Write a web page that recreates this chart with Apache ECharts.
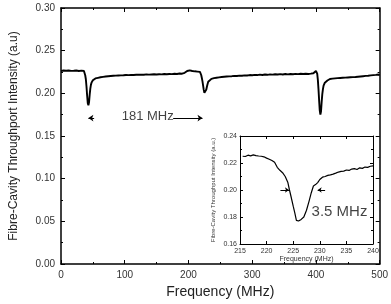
<!DOCTYPE html>
<html><head><meta charset="utf-8">
<script src="https://cdn.jsdelivr.net/npm/echarts@6/dist/echarts.min.js"></script>
<style>html,body{margin:0;padding:0;background:#fff}#c{width:391px;height:304px}</style>
</head><body><div id="c"></div>
<script>
// Main spectrum: [frequency MHz, intensity a.u.]
const mainTrace = [
[0,0.2262],[2,0.2254],[4,0.2268],[6,0.2257],[8,0.2265],[10,0.2251],[12,0.2267],[14,0.2256],[16,0.2263],[18,0.2249],[20,0.2264],[22,0.2255],[24,0.2268],[26,0.2254],[28,0.2262],[30,0.2252],[32,0.2266],[34,0.2257],[36,0.2261],
[37,0.2246],[38,0.2212],[39,0.2165],[40,0.2080],[41,0.1975],[42,0.1885],[43,0.1860],[44,0.1895],[45,0.1985],[46,0.2055],[47,0.2102],[48,0.2128],[50,0.2152],[52,0.2163],[54,0.2175],[56,0.2168],[58,0.2182],[60,0.2176],[62,0.2189],[64,0.2181],[66,0.2193],[68,0.2185],[70,0.2197],[72,0.2188],[74,0.2200],[76,0.2191],[78,0.2203],[80,0.2194],[82,0.2206],[84,0.2196],[86,0.2207],[88,0.2198],[90,0.2209],[92,0.2199],[94,0.2211],[96,0.2201],[98,0.2212],[100,0.2202],[102,0.2214],[104,0.2203],[106,0.2213],[108,0.2205],[110,0.2216],[112,0.2204],[114,0.2215],[116,0.2206],[118,0.2218],[120,0.2205],[122,0.2217],[124,0.2207],[126,0.2219],[128,0.2206],[130,0.2218],[132,0.2208],[134,0.2222],[136,0.2207],[138,0.2219],[140,0.2209],[142,0.2221],[144,0.2208],[146,0.2223],[148,0.2210],[150,0.2220],[152,0.2209],[154,0.2224],[156,0.2211],[158,0.2222],[160,0.2210],[162,0.2226],[164,0.2212],[166,0.2223],[168,0.2211],[170,0.2227],[172,0.2213],[174,0.2225],[176,0.2214],[178,0.2229],[180,0.2215],[182,0.2226],[184,0.2216],[186,0.2232],[188,0.2218],[190,0.2230],[192,0.2222],[194,0.2241],[196,0.2228],[198,0.2262],[200,0.2248],[202,0.2270],[204,0.2252],[206,0.2262],[208,0.2250],[210,0.2258],[212,0.2248],[214,0.2255],[216,0.2246],[218,0.2252],[219,0.2240],
[220,0.2215],[221,0.2180],[222,0.2140],[223,0.2090],[224,0.2040],[225,0.2005],[226,0.1995],[227,0.2010],[228,0.2045],[229,0.2080],[230,0.2110],[231,0.2135],[232,0.2148],[234,0.2158],[236,0.2170],[238,0.2163],[240,0.2178],[242,0.2170],[244,0.2183],[246,0.2174],[248,0.2187],
[250,0.2178],[252,0.2191],[254,0.2180],[256,0.2194],[258,0.2182],[260,0.2197],[262,0.2184],[264,0.2199],[266,0.2186],[268,0.2201],[270,0.2188],[272,0.2205],[274,0.2190],[276,0.2203],[278,0.2192],[280,0.2208],[282,0.2193],[284,0.2206],[286,0.2195],[288,0.2211],[290,0.2196],[292,0.2209],[294,0.2198],[296,0.2214],[298,0.2199],[300,0.2212],[302,0.2200],[304,0.2216],[306,0.2201],[308,0.2214],[310,0.2203],[312,0.2219],[314,0.2202],[316,0.2215],[318,0.2204],[320,0.2221],[322,0.2205],[324,0.2217],[326,0.2206],[328,0.2222],[330,0.2207],[332,0.2219],[334,0.2208],[336,0.2224],[338,0.2209],[340,0.2220],[342,0.2210],[344,0.2225],[346,0.2211],[348,0.2221],[350,0.2212],[352,0.2226],[354,0.2211],[356,0.2222],[358,0.2213],[360,0.2227],[362,0.2212],[364,0.2224],[366,0.2214],[368,0.2228],[370,0.2213],[372,0.2225],[374,0.2215],[376,0.2229],[378,0.2214],[380,0.2226],[382,0.2216],[384,0.2230],[386,0.2215],[388,0.2227],[390,0.2217],[392,0.2231],[394,0.2218],[396,0.2236],[398,0.2242],[400,0.2262],[401,0.2255],[402,0.2230],
[403,0.2160],[404,0.2050],[405,0.1920],[406,0.1800],[407,0.1750],[408,0.1790],[409,0.1900],[410,0.1990],[411,0.2050],[412,0.2090],[413,0.2112],[414,0.2125],[416,0.2138],[418,0.2150],[420,0.2162],[422,0.2168],[424,0.2160],[426,0.2172],[428,0.2164],[430,0.2175],[432,0.2166],[434,0.2178],[436,0.2168],[438,0.2180],[440,0.2170],[442,0.2182],[444,0.2172],[446,0.2184],[448,0.2173],[450,0.2186],[452,0.2175],[454,0.2188],[456,0.2176],[458,0.2190],[460,0.2178],[462,0.2192],[464,0.2180],[466,0.2195],[468,0.2182],[470,0.2198],[472,0.2184],[474,0.2201],[476,0.2186],[478,0.2204],[480,0.2189],[482,0.2206],[484,0.2192],[486,0.2210],[488,0.2195],[490,0.2213],[492,0.2198],[494,0.2216],[496,0.2202],[498,0.2220],[500,0.2210]
];
// Inset zoom on the 225 MHz dip
const insetTrace = [
[215.5,0.2250],[216,0.2248],[216.5,0.2258],[217,0.2253],[217.5,0.2260],[218,0.2255],[218.5,0.2252],[219,0.2250],[219.5,0.2246],[220,0.2236],[220.5,0.2228],[221,0.2218],[221.5,0.2205],[222,0.2168],[222.5,0.2146],[223,0.2128],[223.5,0.2100],[224,0.2055],[224.3,0.2000],[224.6,0.1950],[225,0.1880],[225.3,0.1830],[225.6,0.1775],[226,0.1770],[226.5,0.1782],[227,0.1800],[227.5,0.1850],[228,0.1920],[228.4,0.1980],[228.8,0.2030],[229.2,0.2040],[229.6,0.2055],[230,0.2078],[230.5,0.2095],[231,0.2100],[231.5,0.2108],[232,0.2112],[232.5,0.2118],[233,0.2125],[233.5,0.2133],[234,0.2138],[234.5,0.2140],[235,0.2148],[235.5,0.2145],[236,0.2155],[236.5,0.2158],[237,0.2152],[237.5,0.2164],[238,0.2160],[238.5,0.2170],[239,0.2168],[239.5,0.2176],[240,0.2178]
];
// Annotation positions (data units)
const spacingLabel = {text: '181 MHz', at: [136, 0.1735]};
const spacingArrowLeft = [[52, 0.171], [43, 0.171]];
const spacingArrowRight = [[176, 0.171], [222, 0.171]];
const widthLabel = {text: '3.5 MHz', at: [233.7, 0.1837]};
const widthArrowLeft = [[222.6, 0.200], [224.2, 0.200]];
const widthArrowRight = [[231.0, 0.200], [229.6, 0.200]];

const FONT = 'Liberation Sans';
const axisLine = (w) => ({show: true, onZero: false, lineStyle: {color: '#000', width: w}});
const tick = (len) => ({show: true, inside: true, length: len, lineStyle: {color: '#000', width: 1}});
const minor = (len) => ({show: true, splitNumber: 2, length: len, lineStyle: {color: '#000', width: 1}});

const chart = echarts.init(document.getElementById('c'), null, {renderer: 'canvas'});
chart.setOption({
  animation: false,
  backgroundColor: '#fff',
  grid: [
    {left: 58, right: 9, top: 8, bottom: 35},
    {left: 240, right: 18, top: 136, bottom: 60, show: true, backgroundColor: '#fff', borderWidth: 0, z: 4}
  ],
  xAxis: [
    {type: 'value', gridIndex: 0, min: 0, max: 500, interval: 100, position: 'bottom',
     axisLine: axisLine(1.5), axisTick: tick(4), minorTick: minor(2), splitLine: {show: false},
     axisLabel: {fontFamily: FONT, fontSize: 10, color: '#333', margin: 6},
     name: 'Frequency (MHz)', nameLocation: 'middle', nameGap: 21,
     nameTextStyle: {fontFamily: FONT, fontSize: 14, color: '#222'}},
    {type: 'value', gridIndex: 0, min: 0, max: 500, interval: 100, position: 'top',
     axisLine: axisLine(1.5), axisTick: tick(4), minorTick: minor(2), splitLine: {show: false}, axisLabel: {show: false}},
    {type: 'value', gridIndex: 1, min: 215, max: 240, interval: 5, position: 'bottom', z: 10,
     axisLine: axisLine(1), axisTick: tick(3), splitLine: {show: false},
     axisLabel: {fontFamily: FONT, fontSize: 7, color: '#333', margin: 4},
     name: 'Frequency (MHz)', nameLocation: 'middle', nameGap: 12,
     nameTextStyle: {fontFamily: FONT, fontSize: 7, color: '#333'}},
    {type: 'value', gridIndex: 1, min: 215, max: 240, interval: 5, position: 'top', z: 10,
     axisLine: axisLine(1), axisTick: tick(3), splitLine: {show: false}, axisLabel: {show: false}}
  ],
  yAxis: [
    {type: 'value', gridIndex: 0, min: 0, max: 0.30, interval: 0.05, position: 'left',
     axisLine: axisLine(1.5), axisTick: tick(4), minorTick: minor(2), splitLine: {show: false},
     axisLabel: {fontFamily: FONT, fontSize: 10, color: '#333', margin: 6, formatter: v => v.toFixed(2)},
     name: 'Fibre-Cavity Throughport Intensity (a.u)', nameLocation: 'middle', nameGap: 41,
     nameTextStyle: {fontFamily: FONT, fontSize: 12, color: '#222'}},
    {type: 'value', gridIndex: 0, min: 0, max: 0.30, interval: 0.05, position: 'right',
     axisLine: axisLine(1.5), axisTick: tick(4), minorTick: minor(2), splitLine: {show: false}, axisLabel: {show: false}},
    {type: 'value', gridIndex: 1, min: 0.16, max: 0.24, interval: 0.02, position: 'left', z: 10,
     axisLine: axisLine(1), axisTick: tick(3), minorTick: minor(2), splitLine: {show: false},
     axisLabel: {fontFamily: FONT, fontSize: 7, color: '#333', margin: 3, formatter: v => v.toFixed(2)},
     name: 'Fibre-Cavity Throughput Intensity (a.u.)', nameLocation: 'middle', nameGap: 24,
     nameTextStyle: {fontFamily: FONT, fontSize: 6, color: '#333'}},
    {type: 'value', gridIndex: 1, min: 0.16, max: 0.24, interval: 0.02, position: 'right', z: 10,
     axisLine: axisLine(1), axisTick: tick(3), minorTick: minor(2), splitLine: {show: false}, axisLabel: {show: false}}
  ],
  series: [
    {type: 'line', xAxisIndex: 0, yAxisIndex: 0, data: mainTrace, showSymbol: false,
     lineStyle: {color: '#000', width: 1.9}, z: 3,
     markLine: {silent: true, symbol: ['none', 'arrow'], symbolSize: 5, label: {show: false},
       lineStyle: {color: '#000', width: 1, type: 'solid'},
       data: [
         [{coord: spacingArrowLeft[0]}, {coord: spacingArrowLeft[1]}],
         [{coord: spacingArrowRight[0]}, {coord: spacingArrowRight[1]}]
       ]}},
    {type: 'scatter', xAxisIndex: 0, yAxisIndex: 0, symbolSize: 0, silent: true,
     data: [spacingLabel.at],
     label: {show: true, position: 'inside', formatter: spacingLabel.text, fontFamily: FONT, fontSize: 13, color: '#111'}},
    {type: 'line', xAxisIndex: 2, yAxisIndex: 2, data: insetTrace, showSymbol: false, z: 10,
     lineStyle: {color: '#000', width: 1.2},
     markLine: {silent: true, symbol: ['none', 'arrow'], symbolSize: 4, label: {show: false},
       lineStyle: {color: '#000', width: 1, type: 'solid'},
       data: [
         [{coord: widthArrowLeft[0]}, {coord: widthArrowLeft[1]}],
         [{coord: widthArrowRight[0]}, {coord: widthArrowRight[1]}]
       ]}},
    {type: 'scatter', xAxisIndex: 2, yAxisIndex: 2, symbolSize: 0, silent: true, z: 10,
     data: [widthLabel.at],
     label: {show: true, position: 'inside', formatter: widthLabel.text, fontFamily: FONT, fontSize: 15, color: '#111'}}
  ]
});
</script></body></html>
